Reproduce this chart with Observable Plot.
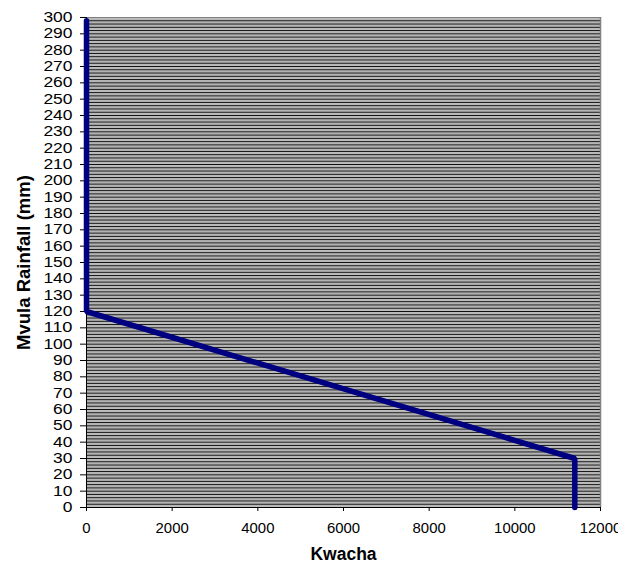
<!DOCTYPE html>
<html><head><meta charset="utf-8">
<script src="https://cdn.jsdelivr.net/npm/d3@7"></script>
<script src="https://cdn.jsdelivr.net/npm/@observablehq/plot@0.6"></script>
<style>body{margin:0;background:#fff;font-family:"Liberation Sans",Arial,sans-serif;}</style>
</head><body><div id="chart"></div>
<script>
const kwacha = [0, 0, 11400, 11400];
const rainfall = [298, 120, 30, 0];
const yTicks = d3.range(0, 301, 10);
const xTicks = d3.range(0, 12001, 2000);
const gridMajor = d3.range(2, 300, 2);
const gridMinor = d3.range(1, 300, 2);

const data = kwacha.map((k, i) => ({k, r: rainfall[i]}));

const chart = Plot.plot({
  width: 618, height: 567,
  marginLeft: 86, marginRight: 18, marginTop: 17, marginBottom: 60,
  style: {fontFamily: "Liberation Sans, Arial, sans-serif", background: "#fff", overflow: "visible"},
  x: {domain: [0, 12000], label: null},
  y: {domain: [0, 300], label: null},
  marks: [
    Plot.rect([0], {x1: 0, x2: 12000, y1: 0, y2: 300, fill: "#c4c4c4"}),
    Plot.ruleY(gridMinor, {stroke: "#b0b0b0", strokeWidth: 1}),
    Plot.ruleY(gridMajor, {stroke: "#111", strokeWidth: 1}),
    Plot.ruleY([300], {stroke: "#808080"}),
    Plot.ruleX([12000], {stroke: "#808080", strokeWidth: 1.5}),
    Plot.axisY({ticks: yTicks, tickFormat: d => String(d), tickSize: 6, tickPadding: 8, fontSize: 14, label: null, anchor: "left"}),
    Plot.axisX({ticks: xTicks, tickFormat: d => String(d), tickSize: 4, tickPadding: 12, fontSize: 14, label: null, anchor: "bottom"}),
    Plot.ruleX([0], {stroke: "#000"}),
    Plot.ruleY([0], {stroke: "#000"}),
    Plot.line(data, {x: "k", y: "r", stroke: "#000080", strokeWidth: 5.5, strokeLinecap: "round", strokeLinejoin: "miter"}),
    Plot.text(["Kwacha"], {frameAnchor: "bottom", dy: 52, fontSize: 17.5, fontWeight: "bold", fill: "#000"}),
    Plot.text(["Mvula Rainfall (mm)"], {frameAnchor: "left", textAnchor: "middle", dx: -62, rotate: -90, fontSize: 18.5, fontWeight: "bold", fill: "#000"})
  ]
});
d3.select(chart).selectAll('g[aria-label="y-axis tick label"] text')
  .attr("textLength", function() { return this.textContent.length * 9.7; })
  .attr("lengthAdjust", "spacingAndGlyphs");
d3.select(chart).selectAll('g[aria-label="x-axis tick label"] text')
  .attr("textLength", function() { return this.textContent.length * 8.3; })
  .attr("lengthAdjust", "spacingAndGlyphs");
document.getElementById("chart").appendChild(chart);
</script></body></html>
